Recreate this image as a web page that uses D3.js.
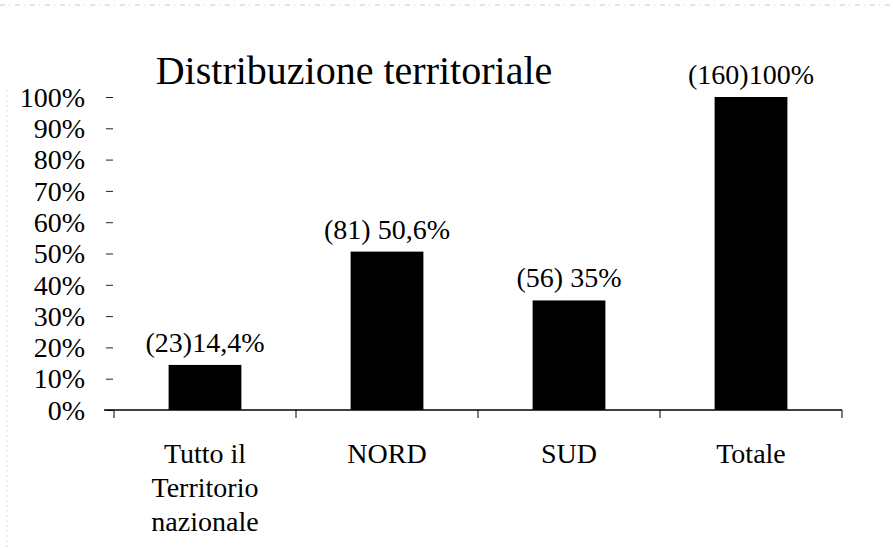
<!DOCTYPE html>
<html>
<head>
<meta charset="utf-8">
<script src="https://cdn.jsdelivr.net/npm/d3@7"></script>
</head>
<body style="margin:0">
<script>
const categories = [['Tutto il', 'Territorio', 'nazionale'], ['NORD'], ['SUD'], ['Totale']];
const values = [14.4, 50.6, 35, 100];
const labels = ['(23)14,4%', '(81) 50,6%', '(56) 35%', '(160)100%'];
const yTicks = [0, 10, 20, 30, 40, 50, 60, 70, 80, 90, 100];

const WIDTH = 893, HEIGHT = 548;
const PLOT = { left: 114, right: 842, top: 97, bottom: 410 };
const FONT = '"Liberation Serif"';

const xScale = d3.scaleBand()
  .domain(d3.range(categories.length))
  .range([PLOT.left, PLOT.right])
  .paddingInner(0.6)
  .paddingOuter(0.3);
const yScale = d3.scaleLinear().domain([0, 100]).range([PLOT.bottom, PLOT.top]);

const svg = d3.select('body').append('svg')
  .attr('width', WIDTH)
  .attr('height', HEIGHT)
  .style('display', 'block')
  .style('background', '#fff');

// scan artefacts: faint dotted borders
svg.append('line')
  .attr('x1', 0).attr('x2', WIDTH).attr('y1', 5).attr('y2', 5)
  .attr('stroke', '#bbb').attr('stroke-width', 0.8).attr('stroke-dasharray', '5,4,1,5');
svg.append('line')
  .attr('x1', 7).attr('x2', 7).attr('y1', 90).attr('y2', HEIGHT)
  .attr('stroke', '#ddd').attr('stroke-dasharray', '2,3');

svg.append('text')
  .attr('x', 354)
  .attr('y', 84)
  .attr('text-anchor', 'middle')
  .attr('font-family', FONT)
  .attr('font-size', 40)
  .text('Distribuzione territoriale');

// y axis: ticks only, the axis line is almost invisible in the source
const yAxis = d3.axisLeft(yScale)
  .tickValues(yTicks)
  .tickFormat(d => d + '%')
  .tickSize(7)
  .tickPadding(21);
const yG = svg.append('g')
  .attr('transform', `translate(${PLOT.left - 1},0)`)
  .call(yAxis)
  .attr('font-family', FONT)
  .attr('font-size', 28);
yG.select('.domain').remove();
yG.selectAll('.tick line').attr('stroke', '#222');
yG.selectAll('.tick text')
  .attr('fill', '#000')
  .attr('dy', '0.33em');

// bars
svg.selectAll('.bar')
  .data(values)
  .enter().append('rect')
  .attr('class', 'bar')
  .attr('x', (d, i) => xScale(i))
  .attr('width', xScale.bandwidth())
  .attr('y', d => yScale(d))
  .attr('height', d => yScale(0) - yScale(d))
  .attr('fill', '#000');

// value labels
svg.selectAll('.val')
  .data(values)
  .enter().append('text')
  .attr('class', 'val')
  .attr('x', (d, i) => xScale(i) + xScale.bandwidth() / 2)
  .attr('y', d => yScale(d) - 13)
  .attr('text-anchor', 'middle')
  .attr('font-family', FONT)
  .attr('font-size', 28)
  .text((d, i) => labels[i]);

// x axis
const bounds = d3.range(categories.length + 1).map(i => PLOT.left + i * (PLOT.right - PLOT.left) / categories.length);
svg.append('line')
  .attr('x1', PLOT.left - 10).attr('x2', PLOT.right)
  .attr('y1', PLOT.bottom).attr('y2', PLOT.bottom)
  .attr('stroke', '#000').attr('stroke-width', 1.5);
svg.selectAll('.xtick')
  .data(bounds)
  .enter().append('line')
  .attr('class', 'xtick')
  .attr('x1', d => d).attr('x2', d => d)
  .attr('y1', PLOT.bottom).attr('y2', PLOT.bottom + 8)
  .attr('stroke', '#000');

categories.forEach((lines, i) => {
  svg.selectAll('.cat' + i)
    .data(lines)
    .enter().append('text')
    .attr('class', 'cat' + i)
    .attr('x', xScale(i) + xScale.bandwidth() / 2)
    .attr('y', (d, j) => 463 + j * 34)
    .attr('text-anchor', 'middle')
    .attr('font-family', FONT)
    .attr('font-size', 28)
    .text(d => d);
});
</script>
</body>
</html>
